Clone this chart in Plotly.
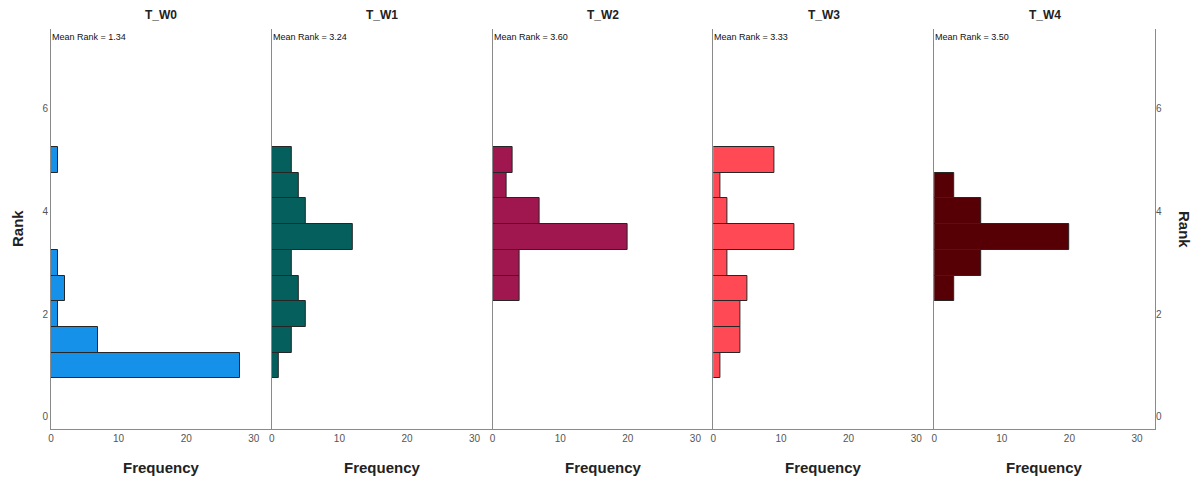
import plotly.graph_objects as go

# ---- data ----
panels = ["T_W0", "T_W1", "T_W2", "T_W3", "T_W4"]
mean_ranks = ["1.34", "3.24", "3.60", "3.33", "3.50"]
rank_bins = [1.0, 1.5, 2.0, 2.5, 3.0, 3.5, 4.0, 4.5, 5.0]
freq_w0 = [28, 7, 1, 2, 1, 0, 0, 0, 1]
freq_w1 = [1, 3, 5, 4, 3, 12, 5, 4, 3]
freq_w2 = [0, 0, 0, 4, 4, 20, 7, 2, 3]
freq_w3 = [1, 4, 4, 5, 2, 12, 2, 1, 9]
freq_w4 = [0, 0, 0, 3, 7, 20, 7, 3, 0]
freqs = [freq_w0, freq_w1, freq_w2, freq_w3, freq_w4]
colors = ["#1591ea", "#055f5c", "#a0164f", "#ff4a56", "#560006"]
x_ticks = [0, 10, 20, 30]
y_ticks = [0, 2, 4, 6]

FONT = "Liberation Sans, Arial, sans-serif"
W, H = 1199, 477
# page body has an 8px offset, margins compensate for it
L, R, T, B = 43, 52, 21, 56
n = len(panels)
pw = 1.0 / n
x_range = [0, 32.66]
y_range = [-0.235, 7.547]
axis_col = "#8a8a8a"

fig = go.Figure()
for i in range(n):
    sfx = "" if i == 0 else str(i + 1)
    # empty bins are not drawn
    xs = [v if v > 0 else None for v in freqs[i]]
    fig.add_trace(go.Bar(
        y=rank_bins, x=xs, orientation="h", width=0.5,
        marker=dict(color=colors[i], line=dict(color="#262626", width=1)),
        xaxis="x" + sfx, yaxis="y" + sfx, showlegend=False, hoverinfo="x+y",
    ))
    d0, d1 = i * pw, (i + 1) * pw
    fig.layout["xaxis" + sfx] = dict(
        domain=[d0, d1], range=x_range, anchor="y" + sfx,
        tickvals=x_ticks, showgrid=False, zeroline=False,
        showline=True, linecolor=axis_col, linewidth=1,
        ticks="", tickfont=dict(family=FONT, size=10, color="#555"),
        automargin=False, fixedrange=True,
    )
    fig.layout["yaxis" + sfx] = dict(
        range=y_range, anchor="x" + sfx, tickvals=y_ticks,
        showticklabels=(i == 0), showgrid=False, zeroline=False,
        showline=True, linecolor=axis_col, linewidth=1,
        mirror=(i == n - 1), ticks="",
        tickfont=dict(family=FONT, size=10, color="#555"),
        automargin=False, fixedrange=True,
    )
    fig.add_annotation(text="<b>Frequency</b>", xref="paper", yref="paper",
                       x=(d0 + d1) / 2, y=0, yshift=-38, xanchor="center", yanchor="middle",
                       showarrow=False, font=dict(family=FONT, size=15, color="#222"))
    fig.add_annotation(text="<b>" + panels[i] + "</b>", xref="paper", yref="paper",
                       x=(d0 + d1) / 2, y=1, yshift=14, xanchor="center", yanchor="middle",
                       showarrow=False, font=dict(family=FONT, size=12, color="#222"))
    fig.add_annotation(text="Mean Rank = " + mean_ranks[i], xref="paper", yref="paper",
                       x=d0, y=1, xshift=-1, yshift=-8, xanchor="left", yanchor="middle",
                       showarrow=False, font=dict(family=FONT, size=9, color="#111"))

# right-side rank axis
fig.add_trace(go.Scatter(x=[None], y=[None], xaxis="x5", yaxis="y6",
                         showlegend=False, hoverinfo="skip"))
fig.layout["yaxis6"] = dict(range=y_range, overlaying="y5", side="right", anchor="x5",
                            tickvals=y_ticks, showgrid=False, zeroline=False, showline=False,
                            ticks="", tickfont=dict(family=FONT, size=10, color="#555"),
                            automargin=False, fixedrange=True)

fig.add_annotation(text="<b>Rank</b>", xref="paper", yref="paper", x=0, xshift=-34, y=0.5,
                   xanchor="center", yanchor="middle",
                   textangle=-90, showarrow=False, font=dict(family=FONT, size=15, color="#222"))
fig.add_annotation(text="<b>Rank</b>", xref="paper", yref="paper", x=1, xshift=30, y=0.5,
                   xanchor="center", yanchor="middle",
                   textangle=90, showarrow=False, font=dict(family=FONT, size=15, color="#222"))

fig.update_layout(
    width=W, height=H, margin=dict(l=L, r=R, t=T, b=B, autoexpand=False),
    plot_bgcolor="white", paper_bgcolor="white", bargap=0,
    font=dict(family=FONT),
)
fig.write_html("out.html")
